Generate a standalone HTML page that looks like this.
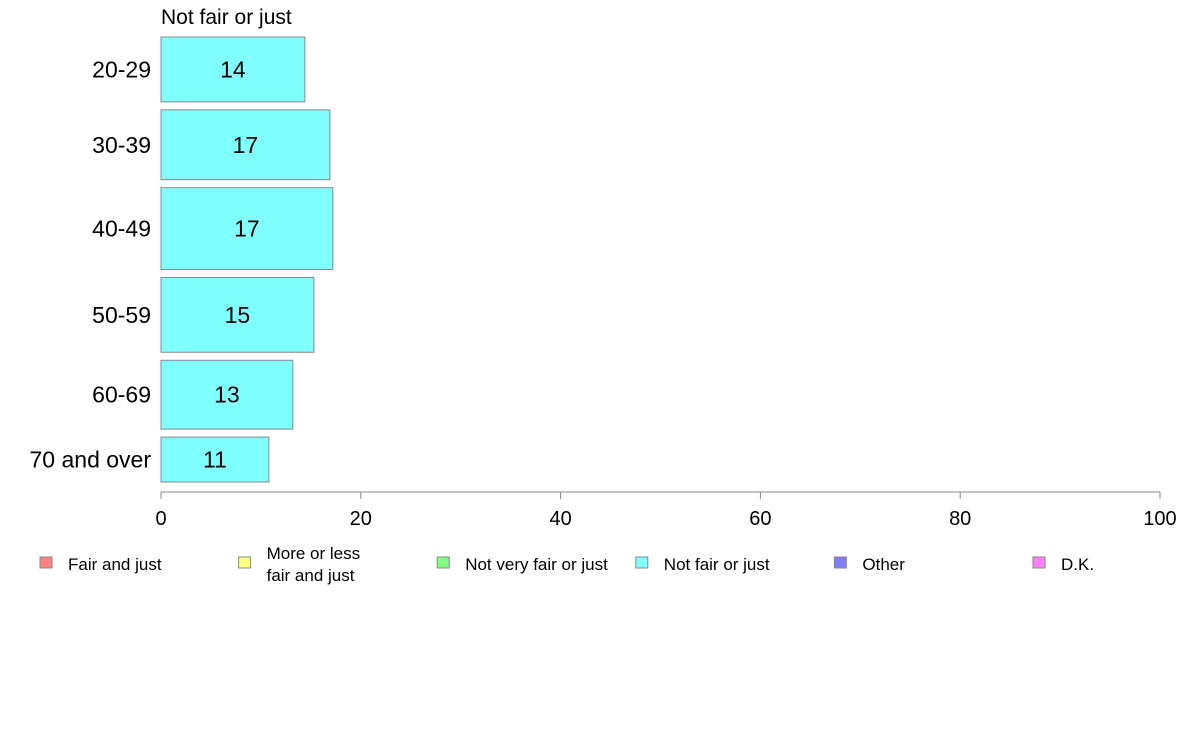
<!DOCTYPE html>
<html><head><meta charset="utf-8"><style>
body{margin:0;background:#fff;width:1188px;height:736px;overflow:hidden}
svg text{font-family:"Liberation Sans",sans-serif}
</style></head><body>
<svg id="chart" width="1188" height="736">
<text x="161" y="24" font-size="21">Not fair or just</text>
<g id="bars"></g>
<g id="axis"></g>
<g id="legend"></g>
</svg>
<script>
const categories=["20-29","30-39","40-49","50-59","60-69","70 and over"];
const values=[14.4,16.9,17.2,15.3,13.2,10.8];
const labels=["14","17","17","15","13","11"];
const groupSizes=[65,70,82,75,69,45];
const ticks=[0,20,40,60,80,100];
const legendItems=["Fair and just","More or less|fair and just","Not very fair or just","Not fair or just","Other","D.K."];
const legendColors=["#ff8080","#ffff80","#80ff80","#80ffff","#8080ff","#ff80ff"];
const NS="http://www.w3.org/2000/svg";
const x0=161,x1=1160,yTop=37,yBottom=482,gap=8;
const xs=v=>x0+(v/100)*(x1-x0);
const total=groupSizes.reduce((a,b)=>a+b,0);
const scaleH=(yBottom-yTop-gap*(categories.length-1))/total;
function mk(t,a,p){const e=document.createElementNS(NS,t);for(const k in a)e.setAttribute(k,a[k]);p.appendChild(e);return e;}
const bars=document.getElementById('bars');
let yPos=yTop;
categories.forEach((c,i)=>{
 const h=groupSizes[i]*scaleH;
 const r=mk('rect',{x:x0,y:yPos,width:xs(values[i])-x0,height:h,fill:'#80ffff',stroke:'#888','stroke-width':1},bars);
 
 
 const t=mk('text',{x:(x0+xs(values[i]))/2,y:yPos+h/2+8,'font-size':23,'text-anchor':'middle'},bars);
 t.textContent=labels[i];
 
 
 const l=mk('text',{x:151,y:yPos+h/2+8,'font-size':23,'text-anchor':'end'},bars);
 l.textContent=c;
 
 
 yPos+=h+gap;
});
const ax=document.getElementById('axis');
const al=mk('line',{x1:x0,x2:x1,y1:492,y2:492,stroke:'#888'},ax);


ticks.forEach(v=>{
 mk('line',{x1:xs(v),x2:xs(v),y1:492,y2:499,stroke:'#888'},ax);
 const t=mk('text',{x:xs(v),y:525,'font-size':20,'text-anchor':'middle'},ax);
 t.textContent=v;
 
 
});
const lg=document.getElementById('legend');
legendItems.forEach((s,i)=>{
 const lx=40+i*198.6;
 const g=mk('g',{},lg);
 
 
 mk('rect',{x:lx,y:557,width:12,height:11,fill:legendColors[i],stroke:'#888'},g);
 const parts=s.split('|');
 parts.forEach((p,j)=>{
  const t=mk('text',{x:lx+28,y:(parts.length>1?559:570)+j*22,'font-size':17},g);
  t.textContent=p;
 });
});
</script>
</body></html>
